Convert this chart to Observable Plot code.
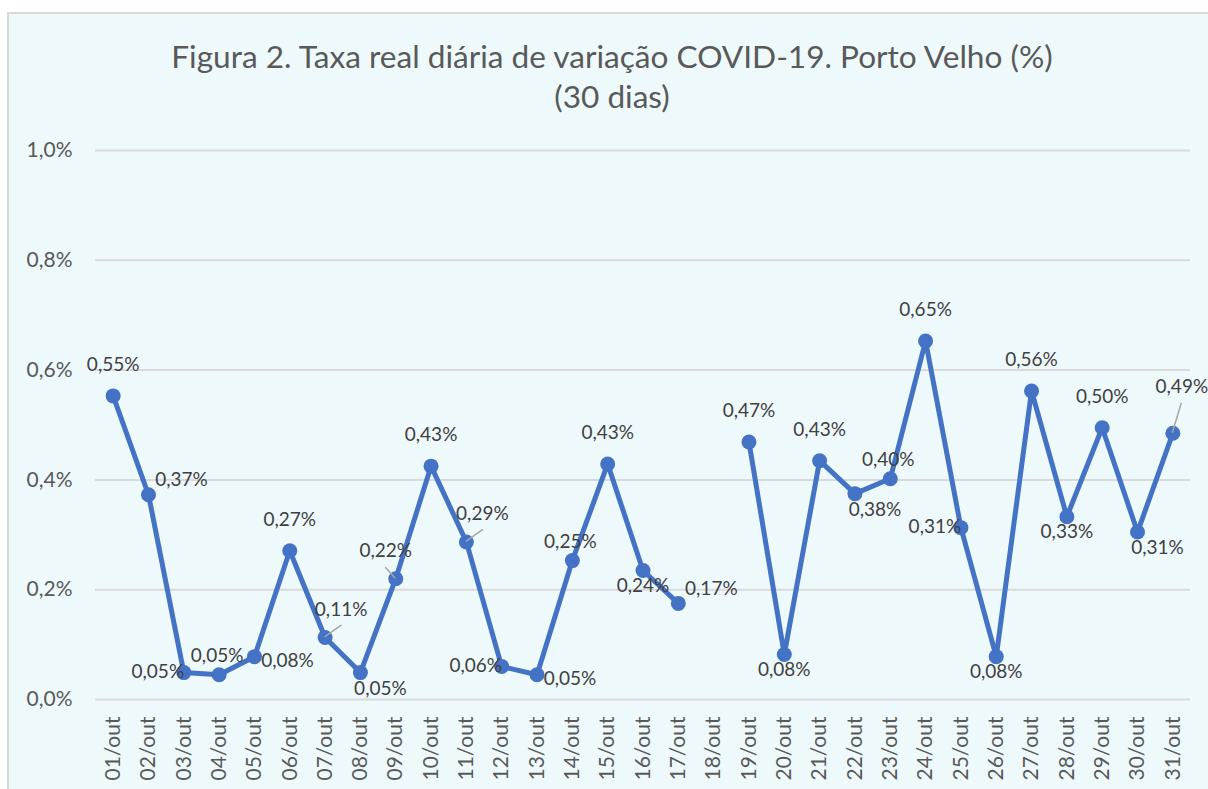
<!DOCTYPE html>
<html>
<head>
<meta charset="utf-8">
<script src="https://cdn.jsdelivr.net/npm/d3@7"></script>
<script src="https://cdn.jsdelivr.net/npm/@observablehq/plot@0.6"></script>
<style>
  html, body { margin: 0; padding: 0; width: 1208px; height: 789px; overflow: hidden; background: #ffffff; }
  #frame { position: absolute; left: 7px; top: 12px; width: 1230px; height: 820px; border: 2px solid #d9d9d9; background: #eef9fc; box-sizing: border-box; }
  #title { position: absolute; left: 0; top: 36px; width: 1224px; text-align: center; font-family: Lato, "Open Sans", sans-serif; font-size: 31.6px; line-height: 40px; color: #595959; }
  #chart { position: absolute; left: 0; top: 0; }
</style>
</head>
<body>
<div id="frame"></div>
<div id="title">Figura 2. Taxa real diária de variação COVID-19. Porto Velho (%)<br>(30 dias)</div>
<div id="chart"></div>
<script>
// ---- data ----
const days = ["01/out","02/out","03/out","04/out","05/out","06/out","07/out","08/out","09/out","10/out",
  "11/out","12/out","13/out","14/out","15/out","16/out","17/out","18/out","19/out","20/out",
  "21/out","22/out","23/out","24/out","25/out","26/out","27/out","28/out","29/out","30/out","31/out"];
const rates = [0.553, 0.373, 0.049, 0.045, 0.078, 0.271, 0.113, 0.049, 0.220, 0.425,
  0.287, 0.060, 0.045, 0.253, 0.429, 0.235, 0.175, null, 0.469, 0.082,
  0.435, 0.375, 0.402, 0.653, 0.313, 0.078, 0.562, 0.333, 0.495, 0.305, 0.485];
const labelTexts = ["0,55%","0,37%","0,05%","0,05%","0,08%","0,27%","0,11%","0,05%","0,22%","0,43%",
  "0,29%","0,06%","0,05%","0,25%","0,43%","0,24%","0,17%",null,"0,47%","0,08%",
  "0,43%","0,38%","0,40%","0,65%","0,31%","0,08%","0,56%","0,33%","0,50%","0,31%","0,49%"];
const labelSide = ["T","TR","L","T2","R","T","TRL","BR","TLL","T",
  "TRL","L","R","T2","T","B","TR",null,"T","B",
  "T","BR","T2","T","L","B","T","B","T","BR","TH"];
const yTicks = [0, 0.2, 0.4, 0.6, 0.8, 1.0];

// ---- label placements (styles) ----
const sideOffset = {
  T: [0, -31], T2: [-2, -19], B: [0, 15], L: [-26, -1], R: [33, 4],
  BR: [20, 16], TR: [33, -15], TRL: [16, -28], TLL: [-10, -28], TH: [9, -46]
};
const leaderEnd = { TRL: [17, -12], TLL: [-10, -11], TH: [9, -30] };

const data = days.map((d, i) => ({day: d, rate: rates[i], label: labelTexts[i], side: labelSide[i]}));
const pts = data.filter(d => d.rate != null);

const textMarks = Object.keys(sideOffset).map(side =>
  Plot.text(pts.filter(d => d.side === side), {
    x: "day", y: "rate", text: "label",
    dx: sideOffset[side][0], dy: sideOffset[side][1],
    fill: "#404040", fontSize: 19
  })
);

function leaders(index, scales) {
  const g = d3.create("svg:g");
  for (const d of pts) {
    const e = leaderEnd[d.side];
    if (!e) continue;
    const x = scales.x(d.day), y = scales.y(d.rate);
    g.append("line").attr("x1", x).attr("y1", y).attr("x2", x + e[0]).attr("y2", y + e[1])
      .attr("stroke", "#a6a6a6").attr("stroke-width", 1.5);
  }
  return g.node();
}

const chart = Plot.plot({
  width: 1208,
  height: 789,
  marginLeft: 95,
  marginRight: 18,
  marginTop: 150,
  marginBottom: 90,
  style: { background: "transparent", fontFamily: "Lato, 'Open Sans', sans-serif", fontSize: "21px", color: "#595959" },
  x: { type: "point", domain: days, padding: 0.5, round: false, tickSize: 0, tickPadding: 17, tickRotate: -90, label: null },
  y: { domain: [0, 1], ticks: 5, tickSize: 0, tickPadding: 23, label: null,
       tickFormat: v => v.toFixed(1).replace(".", ",") + "%" },
  marks: [
    Plot.ruleY(yTicks, { stroke: "#d9d9d9", strokeWidth: 2 }),
    Plot.line(data, { x: "day", y: "rate", stroke: "#4472c4", strokeWidth: 5, strokeLinejoin: "round" }),
    Plot.dot(pts, { x: "day", y: "rate", r: 7.5, fill: "#4472c4", stroke: "none" }),
    leaders,
    ...textMarks
  ]
});
document.getElementById("chart").appendChild(chart);
</script>
</body>
</html>
